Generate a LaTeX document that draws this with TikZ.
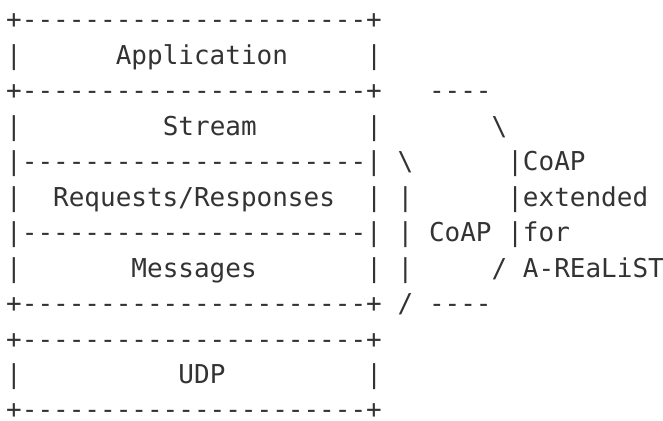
\documentclass[tikz,border=0pt]{standalone}
\usepackage{fontspec}
\setmonofont{DejaVu Sans Mono}
\definecolor{inkgray}{HTML}{333333}
\tikzset{txt/.style={anchor=base west,inner sep=0pt,outer sep=0pt,text=inkgray,font=\ttfamily\fontsize{26}{30}\selectfont}}
\newcommand\seg[4]{\node[txt] (#1) at ({6.2+#2*15.66},{29+(#3-1)*35.45}) {#4};}
\begin{document}
\begin{tikzpicture}[x=1pt,y=-1pt]
\useasboundingbox (0,0) rectangle (663,420);
% row 1
\seg{r1a}{0}{1}{+----------------------+}
% row 2
\seg{r2a}{0}{2}{|}
\seg{app}{7}{2}{Application}
\seg{r2b}{23}{2}{|}
% row 3
\seg{r3a}{0}{3}{+----------------------+}
\seg{r3b}{27}{3}{----}
% row 4
\seg{r4a}{0}{4}{|}
\seg{stream}{10}{4}{Stream}
\seg{r4b}{23}{4}{|}
\seg{r4c}{31}{4}{\textbackslash}
% row 5
\seg{r5a}{0}{5}{|----------------------|}
\seg{r5b}{25}{5}{\textbackslash}
\seg{r5c}{32}{5}{|CoAP}
% row 6
\seg{r6a}{0}{6}{|}
\seg{reqres}{3}{6}{Requests/Responses}
\seg{r6b}{23}{6}{|}
\seg{r6c}{25}{6}{|}
\seg{r6d}{32}{6}{|extended}
% row 7
\seg{r7a}{0}{7}{|----------------------|}
\seg{r7b}{25}{7}{|}
\seg{coap}{27}{7}{CoAP}
\seg{r7c}{32}{7}{|for}
% row 8
\seg{r8a}{0}{8}{|}
\seg{msgs}{8}{8}{Messages}
\seg{r8b}{23}{8}{|}
\seg{r8c}{25}{8}{|}
\seg{r8d}{31}{8}{/}
\seg{realist}{33}{8}{A-REaLiST}
% row 9
\seg{r9a}{0}{9}{+----------------------+}
\seg{r9b}{25}{9}{/}
\seg{r9c}{27}{9}{----}
% row 10
\seg{r10a}{0}{10}{+----------------------+}
% row 11
\seg{r11a}{0}{11}{|}
\seg{udp}{11}{11}{UDP}
\seg{r11b}{23}{11}{|}
% row 12
\seg{r12a}{0}{12}{+----------------------+}
\end{tikzpicture}
\end{document}
